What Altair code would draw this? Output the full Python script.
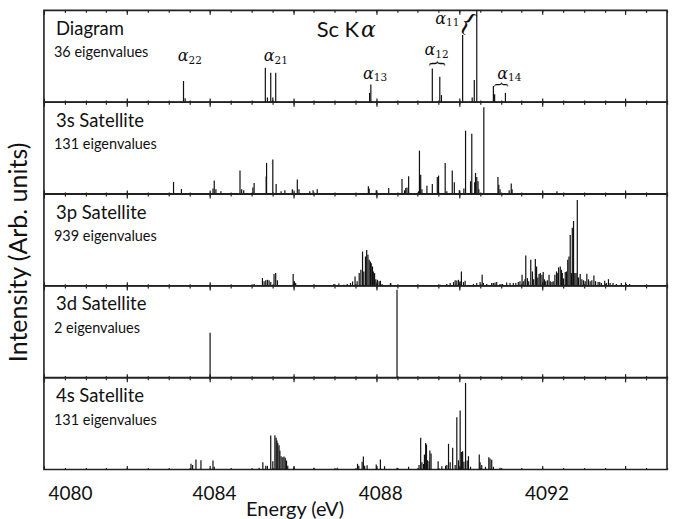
import altair as alt
import pandas as pd

# Stick spectra of the Sc K-alpha emission: (transition energy in eV, relative intensity)
DIAGRAM = [
    (4083.36, 0.229), (4083.40, 0.04),
    (4085.33, 0.374), (4085.38, 0.05), (4085.46, 0.32), (4085.51, 0.05), (4085.58, 0.32),
    (4087.84, 0.10), (4087.87, 0.19),
    (4089.35, 0.367), (4089.53, 0.276), (4089.57, 0.076),
    (4090.08, 0.73), (4090.31, 0.05), (4090.36, 0.24), (4090.42, 1.0),
    (4090.82, 0.174), (4090.85, 0.084), (4091.11, 0.10),
]

SAT_3S = [
    (4083.12, 0.131), (4083.31, 0.054), (4084.07, 0.06), (4084.10, 0.145), (4084.14, 0.05),
    (4084.26, 0.03), (4084.72, 0.254), (4084.76, 0.05), (4084.81, 0.04), (4085.03, 0.07),
    (4085.06, 0.12), (4085.35, 0.19), (4085.36, 0.338), (4085.51, 0.374), (4085.59, 0.109),
    (4085.71, 0.03), (4085.80, 0.04), (4085.98, 0.05), (4086.10, 0.156), (4086.14, 0.05),
    (4086.40, 0.03), (4086.48, 0.04), (4086.58, 0.05),
    (4087.81, 0.084), (4087.83, 0.06), (4088.00, 0.04), (4088.30, 0.065), (4088.62, 0.163),
    (4088.68, 0.04), (4088.71, 0.065), (4088.74, 0.07), (4088.78, 0.192), (4089.02, 0.03),
    (4089.04, 0.472), (4089.07, 0.21), (4089.10, 0.05), (4089.22, 0.09), (4089.35, 0.109),
    (4089.47, 0.185), (4089.50, 0.20), (4089.66, 0.338), (4089.70, 0.03), (4089.83, 0.254),
    (4089.88, 0.127), (4090.00, 0.04), (4090.11, 0.058), (4090.15, 0.69), (4090.27, 0.138),
    (4090.30, 0.657), (4090.37, 0.127), (4090.39, 0.229), (4090.42, 0.185), (4090.45, 0.138),
    (4090.47, 0.05), (4090.59, 0.944), (4090.93, 0.185), (4090.95, 0.10), (4090.98, 0.05),
    (4091.20, 0.04), (4091.25, 0.113), (4091.27, 0.05), (4092.35, 0.03), (4092.83, 0.01),
]

SAT_3P = [
    (4085.06, 0.02), (4085.26, 0.084), (4085.30, 0.05), (4085.34, 0.06), (4085.38, 0.065),
    (4085.42, 0.06), (4085.46, 0.04), (4085.54, 0.127), (4085.58, 0.138), (4085.62, 0.06),
    (4086.00, 0.127), (4086.03, 0.05), (4086.06, 0.03), (4086.50, 0.01), (4086.98, 0.02),
    (4087.10, 0.025),
    (4087.22, 0.01), (4087.30, 0.02), (4087.38, 0.03), (4087.43, 0.047), (4087.49, 0.101),
    (4087.54, 0.05), (4087.59, 0.138), (4087.63, 0.174), (4087.67, 0.373), (4087.70, 0.156),
    (4087.74, 0.319), (4087.77, 0.391), (4087.80, 0.337), (4087.83, 0.283), (4087.86, 0.264),
    (4087.88, 0.246), (4087.91, 0.21), (4087.93, 0.156), (4087.96, 0.138), (4087.99, 0.07),
    (4088.03, 0.065), (4088.07, 0.05), (4088.10, 0.054), (4088.14, 0.02), (4088.34, 0.025),
    (4088.35, 0.03),
    (4089.54, 0.01), (4089.70, 0.02), (4089.78, 0.03), (4089.86, 0.04), (4089.90, 0.06),
    (4089.94, 0.058), (4089.98, 0.065), (4090.02, 0.05), (4090.05, 0.156), (4090.10, 0.04),
    (4090.14, 0.054),
    (4090.34, 0.02), (4090.42, 0.03), (4090.50, 0.04), (4090.55, 0.12), (4090.58, 0.03),
    (4090.66, 0.02), (4090.78, 0.03), (4090.82, 0.03), (4090.86, 0.036), (4090.90, 0.04),
    (4090.98, 0.02), (4091.04, 0.02),
    (4091.14, 0.036), (4091.22, 0.03), (4091.30, 0.03), (4091.36, 0.03), (4091.42, 0.04),
    (4091.46, 0.05), (4091.51, 0.12), (4091.54, 0.05), (4091.58, 0.07), (4091.60, 0.33),
    (4091.64, 0.083), (4091.67, 0.05), (4091.72, 0.283), (4091.76, 0.156), (4091.79, 0.07),
    (4091.83, 0.293), (4091.86, 0.21), (4091.89, 0.09), (4091.92, 0.127), (4091.95, 0.138),
    (4091.99, 0.12), (4092.02, 0.149), (4092.05, 0.07), (4092.08, 0.05), (4092.12, 0.06),
    (4092.16, 0.12), (4092.19, 0.05), (4092.23, 0.04), (4092.26, 0.05), (4092.30, 0.12),
    (4092.34, 0.156), (4092.37, 0.138), (4092.39, 0.20), (4092.43, 0.21), (4092.46, 0.174),
    (4092.48, 0.138), (4092.51, 0.08), (4092.55, 0.149), (4092.58, 0.156), (4092.61, 0.283),
    (4092.64, 0.319), (4092.67, 0.554), (4092.70, 0.138), (4092.72, 0.634), (4092.75, 0.707),
    (4092.78, 0.138), (4092.81, 0.138), (4092.84, 0.935), (4092.87, 0.09), (4092.91, 0.127),
    (4092.95, 0.07), (4092.99, 0.06), (4093.03, 0.05), (4093.07, 0.13), (4093.11, 0.07),
    (4093.15, 0.05), (4093.19, 0.06), (4093.24, 0.112), (4093.28, 0.05), (4093.34, 0.04),
    (4093.38, 0.04), (4093.42, 0.03), (4093.50, 0.054), (4093.54, 0.03), (4093.59, 0.072),
    (4093.63, 0.03), (4093.70, 0.03), (4093.78, 0.02), (4093.90, 0.03), (4094.02, 0.02),
    (4094.10, 0.02),
]

SAT_3D = [(4084.00, 0.49), (4088.50, 0.96)]

SAT_4S = [
    (4083.54, 0.062), (4083.58, 0.05), (4083.66, 0.109), (4083.78, 0.10), (4084.07, 0.098),
    (4084.10, 0.03), (4085.18, 0.02), (4085.27, 0.08), (4085.34, 0.04), (4085.38, 0.04),
    (4085.46, 0.37), (4085.51, 0.09), (4085.56, 0.374), (4085.59, 0.345), (4085.61, 0.316),
    (4085.63, 0.29), (4085.66, 0.265), (4085.68, 0.207), (4085.71, 0.145), (4085.75, 0.134),
    (4085.78, 0.141), (4085.81, 0.127), (4085.84, 0.098), (4085.87, 0.04), (4086.02, 0.03),
    (4086.50, 0.02), (4087.06, 0.02),
    (4087.55, 0.062), (4087.58, 0.04), (4087.66, 0.084), (4087.69, 0.142), (4087.72, 0.04),
    (4087.78, 0.047), (4088.00, 0.054), (4088.10, 0.109), (4088.20, 0.036), (4088.50, 0.02),
    (4088.78, 0.03), (4089.03, 0.05), (4089.07, 0.345), (4089.10, 0.08), (4089.14, 0.06),
    (4089.16, 0.163), (4089.19, 0.29), (4089.21, 0.272), (4089.23, 0.10), (4089.27, 0.09),
    (4089.29, 0.207), (4089.32, 0.174), (4089.49, 0.09), (4089.58, 0.036), (4089.67, 0.04),
    (4089.70, 0.05), (4089.74, 0.28), (4089.78, 0.08), (4089.84, 0.236), (4089.90, 0.05),
    (4089.94, 0.57), (4089.98, 0.10), (4090.02, 0.643), (4090.05, 0.192), (4090.08, 0.20),
    (4090.11, 0.084), (4090.15, 0.944), (4090.19, 0.098), (4090.22, 0.145), (4090.27, 0.03),
    (4090.48, 0.163), (4090.50, 0.08), (4090.54, 0.05), (4090.63, 0.03), (4090.71, 0.134),
    (4090.74, 0.12), (4090.78, 0.105), (4090.82, 0.03), (4090.98, 0.02),
]

PANEL_NAMES = ["Diagram", "3s Satellite", "3p Satellite", "3d Satellite", "4s Satellite"]
PANEL_COUNTS = ["36 eigenvalues", "131 eigenvalues", "939 eigenvalues", "2 eigenvalues", "131 eigenvalues"]
PANEL_SPECTRA = [DIAGRAM, SAT_3S, SAT_3P, SAT_3D, SAT_4S]

# Energy axis
ENERGY_RANGE = [4080, 4095]
MAJOR_TICKS = [4080, 4082, 4084, 4086, 4088, 4090, 4092, 4094]
MINOR_TICKS = [4080 + 0.5 * i for i in range(31)]
LABELED_TICKS = [4080, 4084, 4088, 4092]

W, H = 624, 91.8
INK = "#111111"
FRAME = "#222222"
SANS = "Lato"
MATH = "DejaVu Serif"

XS = alt.Scale(domain=ENERGY_RANGE, nice=False, zero=False)
YS = alt.Scale(domain=[0, 1], nice=False, zero=True)
BLANK = alt.Data(values=[{}])


def inward_axis(orient, values, size, **extra):
    """Ticks that sit inside the frame (negative offset equal to the tick length)."""
    props = dict(orient=orient, values=values, tickSize=size, offset=-size,
                 domain=False, grid=False, labels=False, title=None,
                 tickColor=FRAME, tickWidth=1.2)
    props.update(extra)
    return alt.Axis(**props)


def axis_layer(df, axis, y_axis=None):
    return alt.Chart(df).mark_rule(opacity=0).encode(
        x=alt.X("energy:Q", scale=XS, axis=axis),
        y=alt.Y("intensity:Q", scale=YS, axis=y_axis),
    )


def text_at(text, x, y, size, font=SANS, **kw):
    style = dict(align="left", baseline="alphabetic", color=INK)
    style.update(kw)
    return alt.Chart(BLANK).mark_text(text=text, font=font, fontSize=size, **style).encode(
        x=alt.value(x), y=alt.value(y))


def text_on_scale(text, energy, level, size, font=MATH, **kw):
    style = dict(align="center", baseline="middle", color=INK)
    style.update(kw)
    return alt.Chart(BLANK).mark_text(text=text, font=font, fontSize=size, **style).encode(
        x=alt.XDatum(energy, scale=XS, axis=None),
        y=alt.YDatum(level, scale=YS, axis=None),
    )


def line_label(sub, energy, level):
    alpha = text_on_scale("α", energy, level, 16, fontStyle="italic")
    index = text_on_scale(sub, energy, level, 10.5, align="left", dx=5.5, dy=4.5)
    return [alpha, index]


# The intensity title sits on the middle panel, so it spans the whole stack
INTENSITY_AXIS = alt.Axis(
    title="Intensity (Arb. units)", labels=False, ticks=False, domain=False, grid=False,
    titleFont=SANS, titleFontSize=25, titleFontWeight="normal", titleColor=INK,
    titlePadding=12, titleY=H / 2 + 12, titleAlign="center",
)


def panel(i, last):
    df = pd.DataFrame(PANEL_SPECTRA[i], columns=["energy", "intensity"])
    sticks = alt.Chart(df).transform_calculate(zero="0").mark_rule(
        color=INK, strokeWidth=1.2
    ).encode(
        x=alt.X("energy:Q", scale=XS, axis=None),
        y=alt.Y("intensity:Q", scale=YS, axis=None),
        y2="zero:Q",
    )

    if last:
        label_test = " || ".join(f"datum.value === {v}" for v in LABELED_TICKS)
        bottom_major = inward_axis(
            "bottom", MAJOR_TICKS, 4, labels=True,
            labelExpr=f"({label_test}) ? format(datum.value, 'd') : ''",
            labelFont=SANS, labelFontSize=19, labelColor=INK, labelPadding=15,
            labelOffset=4, labelFlush=True, labelOverlap=False,
            title="Energy (eV)", titleFont=SANS, titleFontSize=20, titleFontWeight="normal",
            titleColor=INK, titleX=251, titleY=50, titleBaseline="alphabetic",
            titleAlign="center",
        )
    else:
        bottom_major = inward_axis("bottom", MAJOR_TICKS, 4)

    layers = [
        sticks,
        axis_layer(df, bottom_major, INTENSITY_AXIS if i == 2 else None),
        axis_layer(df, inward_axis("bottom", MINOR_TICKS, 2)),
        axis_layer(df, inward_axis("top", MAJOR_TICKS, 4)),
        axis_layer(df, inward_axis("top", MINOR_TICKS, 2)),
        text_at(PANEL_NAMES[i], 12, 24.5, 18.5),
        text_at(PANEL_COUNTS[i], 10, 46.8, 14.5),
    ]

    if i == 0:
        # spectrum title and the labels of the diagram lines
        layers += [
            text_at("Sc K", 315.7, 26.3, 22, align="right"),
            text_at("α", 317.5, 26.3, 22, font=MATH, fontStyle="italic"),
        ]
        layers += line_label("22", 4083.35, 0.50)
        layers += line_label("21", 4085.42, 0.50)
        layers += line_label("13", 4087.81, 0.31)
        layers += line_label("12", 4089.29, 0.565)
        layers += line_label("11", 4089.55, 0.91)
        layers += line_label("14", 4091.04, 0.31)
        layers += [
            text_on_scale("{", 4089.47, 0.42, 18, font="Liberation Serif", angle=90),
            text_on_scale("{", 4091.00, 0.19, 16, font="Liberation Serif", angle=90),
            text_on_scale("{", 4090.20, 0.86, 28, font="Liberation Serif", angle=31),
        ]

    return (
        alt.layer(*layers)
        .resolve_axis(x="independent", y="independent")
        .properties(width=W, height=H)
    )


charts = [panel(i, i == len(PANEL_NAMES) - 1) for i in range(len(PANEL_NAMES))]

chart = alt.vconcat(
    *charts,
    spacing=0,
    bounds="flush",
).properties(
    padding={"left": 6, "top": 6, "right": 5, "bottom": 0},
).configure_view(
    stroke=FRAME, strokeWidth=1.6,
).configure_axis(
    grid=False,
)

chart.save("out.html", embed_options={"renderer": "svg", "actions": False})
